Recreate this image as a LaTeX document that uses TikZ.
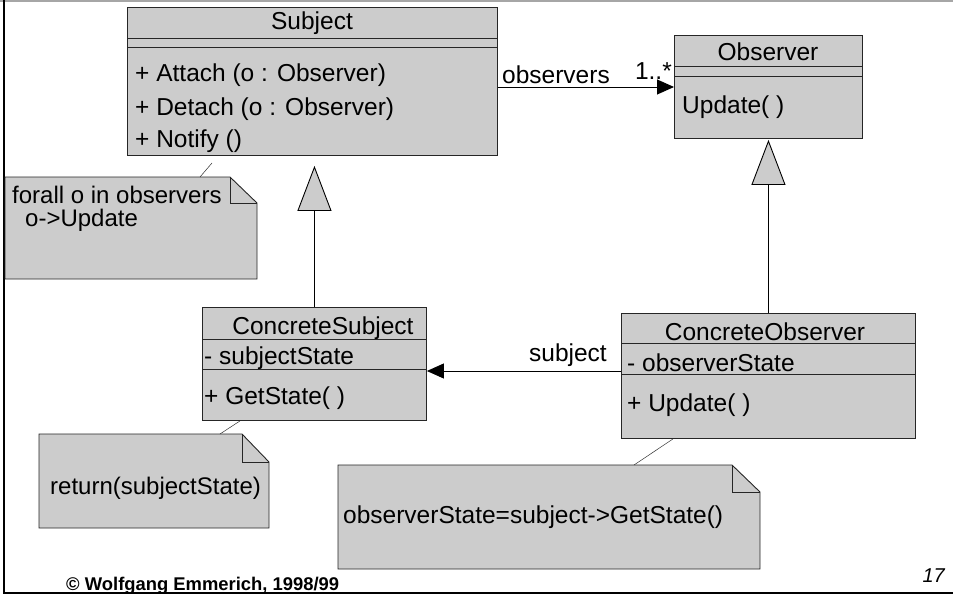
\documentclass[tikz,border=0pt]{standalone}
\usepackage{fontspec}
\setmainfont{Liberation Sans}
\usetikzlibrary{positioning,calc,arrows.meta}

\begin{document}
\begin{tikzpicture}[x=1pt,y=-1pt,
classbox/.style={draw=black!85, fill=black!20, line width=0.9pt, anchor=north west, inner sep=0pt},
sepline/.style={draw=black!85, line width=0.9pt},
cname/.style={inner sep=0pt, font=\fontsize{24.5}{25}\selectfont},
member/.style={inner sep=0pt, anchor=west, font=\fontsize{24.5}{25}\selectfont},
notebox/.style={draw=black!85, fill=black!20, line width=0.9pt},
notetext/.style={inner sep=0pt, anchor=west, align=left, font=\fontsize{24}{23.5}\selectfont},
assoc/.style={line width=0.9pt, -{Triangle[length=17pt,width=15pt]}},
inherit/.style={line width=0.9pt, -{Triangle[length=45pt,width=34pt,fill=black!20]}},
noteline/.style={draw=black!80, line width=0.5pt}]
\useasboundingbox (0,0) rectangle (953,594);
% frame of the slide
\draw[black!35, line width=1.5pt] (0,1) -- (953,1);
\draw[line width=2pt] (4,0) -- (4,593) -- (953,593);

% Subject
\node[classbox, minimum width=370, minimum height=148] (SubjBox) at (127,7) {};
\draw[sepline] (127,38) -- (497,38) (127,47) -- (497,47);
\node[cname] (SubjName) at (312,23) {Subject};
\node[member] (SubjAttach) at (135,75) {+ Attach (o : Observer)};
\node[member] (SubjDetach) at (135,109) {+ Detach (o : Observer)};
\node[member] (SubjNotify) at (135,141) {+ Notify ()};

% Observer
\node[classbox, minimum width=188, minimum height=103] (ObsBox) at (674,35) {};
\draw[sepline] (674,66) -- (862,66) (674,76) -- (862,76);
\node[cname] (ObsName) at (768,52) {Observer};
\node[member] (ObsUpdate) at (682,107) {Update( )};

% ConcreteSubject
\node[classbox, minimum width=224, minimum height=113] (CSubjBox) at (202,307) {};
\draw[sepline] (202,339) -- (426,339) (202,369) -- (426,369);
\node[cname] (CSubjName) at (323,328) {ConcreteSubject};
\node[member] (CSubjState) at (204,358) {- subjectState};
\node[member] (CSubjGet) at (204,398) {+ GetState( )};

% ConcreteObserver
\node[classbox, minimum width=294, minimum height=125] (CObsBox) at (621,313) {};
\draw[sepline] (621,343) -- (915,343) (621,374) -- (915,374);
\node[cname] (CObsName) at (765,332) {ConcreteObserver};
\node[member] (CObsState) at (627,363) {- observerState};
\node[member] (CObsUpdate) at (627,405) {+ Update( )};

% associations
\draw[assoc] (SubjBox.east |- 0,87) -- (ObsBox.west |- 0,87);
\node[member, anchor=center] (ObsRole) at (556,75) {observers};
\node[member, anchor=south east] (ObsMult) at (672,80) {1..*};
\draw[assoc] (CObsBox.west |- 0,371) -- (CSubjBox.east |- 0,371);
\node[member, anchor=center] (SubjRole) at (568,355) {subject};

% generalisations
\draw[inherit, shorten >=10pt] (CSubjBox.north) -- (CSubjBox.north |- SubjBox.south);
\draw[inherit, shorten >=1pt] (CObsBox.north) -- (CObsBox.north |- ObsBox.south);

% notes
\draw[notebox] (5,177) -- (230,177) -- (257,203) -- (257,279) -- (5,279) -- cycle;
\draw[sepline] (230,177) -- (230,203) -- (257,203);
\node[notetext] (NoteA) at (12,209) {forall o in observers\\\hspace*{13pt}o->Update};
\coordinate (NoteATop) at (200,177);
\coordinate (NoteAEnd) at (212,163);
\draw[noteline] (NoteATop) -- (NoteAEnd);

\draw[notebox] (39,434) -- (242,434) -- (269,462) -- (269,528) -- (39,528) -- cycle;
\draw[sepline] (242,434) -- (242,462) -- (269,462);
\node[notetext] (NoteB) at (50,488) {return(subjectState)};
\coordinate (NoteBTop) at (220,434);
\draw[noteline] (NoteBTop) -- (CSubjBox.south -| 240,0);

\draw[notebox] (338,465) -- (732,465) -- (760,492) -- (760,569) -- (338,569) -- cycle;
\draw[sepline] (732,465) -- (732,492) -- (760,492);
\node[notetext, font=\fontsize{24.5}{25}\selectfont] (NoteC) at (343,517) {observerState=subject->GetState()};
\coordinate (NoteCTop) at (634,465);
\draw[noteline] (NoteCTop) -- (CObsBox.south -| 673,0);

% footer
\node[inner sep=0pt, anchor=base west, font=\bfseries\fontsize{18.4}{18}\selectfont] (Copyright) at (66,590) {© Wolfgang Emmerich, 1998/99};
\node[inner sep=0pt, anchor=south east, font=\itshape\fontsize{20}{20}\selectfont] (PageNo) at (945,583) {17};
\end{tikzpicture}
\end{document}
